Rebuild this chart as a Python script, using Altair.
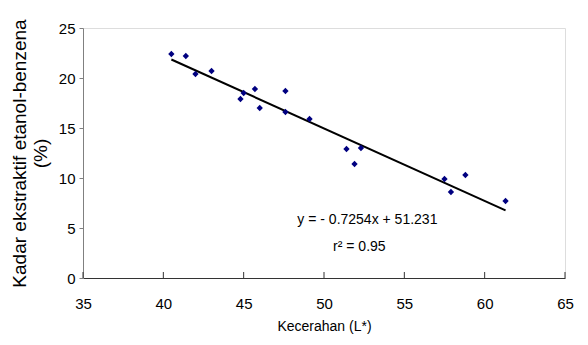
import altair as alt
import pandas as pd

# Data
lightness = [40.5, 41.4, 42.0, 43.0, 44.8, 45.0, 45.7, 46.0, 47.6, 47.6, 49.1,
             51.4, 51.9, 52.3, 57.5, 57.9, 58.8, 61.3]
extractive = [22.4, 22.2, 20.4, 20.7, 17.9, 18.5, 18.9, 17.0, 18.7, 16.6, 15.9,
              12.9, 11.4, 13.0, 9.9, 8.6, 10.3, 7.7]
slope = -0.7254
intercept = 51.231
x_ticks = [35, 40, 45, 50, 55, 60, 65]
y_ticks = [0, 5, 10, 15, 20, 25]
eq_text = ["y = - 0.7254x + 51.231", "r² = 0.95"]
eq_x = [52.7, 52.2]
eq_y = [5.8, 3.1]

FONT = "Liberation Sans"

pts = pd.DataFrame({"x": lightness, "y": extractive})
xmin, xmax = min(lightness), max(lightness)
fit = pd.DataFrame({"x": [xmin, xmax],
                    "y": [slope * xmin + intercept, slope * xmax + intercept]})
ticks = pd.DataFrame({"x": x_ticks})
labels = pd.DataFrame({"t": eq_text, "x": eq_x, "y": eq_y})

xscale = alt.Scale(domain=[35, 65], nice=False, zero=False)
yscale = alt.Scale(domain=[0, 25], nice=False)

xaxis = alt.Axis(values=x_ticks, title="Kecerahan (L*)", grid=False,
                 tickSize=0, labelPadding=18, domainColor="#333333",
                 labelFlush=False,
                 labelFont=FONT, labelFontSize=15, labelColor="black",
                 titleFont=FONT, titleFontSize=14, titleFontWeight="normal",
                 titleColor="black", titlePadding=8)
yaxis = alt.Axis(values=y_ticks,
                 title=["Kadar ekstraktif etanol-benzena", "(%)"], grid=False,
                 tickSize=4, tickColor="#808080", domainColor="#808080",
                 labelPadding=4, labelFont=FONT, labelFontSize=15,
                 labelColor="black", labelFlush=False,
                 titleFont=FONT, titleFontSize=19,
                 titleFontWeight="normal", titleColor="black", titlePadding=8,
                 titleLineHeight=21)

points = alt.Chart(pts).mark_point(shape="diamond", filled=True, color="#000080",
                                   size=40, opacity=1).encode(
    x=alt.X("x:Q", scale=xscale, axis=xaxis),
    y=alt.Y("y:Q", scale=yscale, axis=yaxis),
)

line = alt.Chart(fit).mark_line(color="black", strokeWidth=2).encode(
    x=alt.X("x:Q", scale=xscale),
    y=alt.Y("y:Q", scale=yscale),
)

tick_marks = alt.Chart(ticks).mark_rule(color="#333333", strokeWidth=1).encode(
    x=alt.X("x:Q", scale=xscale),
    y=alt.value(244),
    y2=alt.value(250),
)

text = alt.Chart(labels).mark_text(font=FONT, fontSize=14, color="black").encode(
    x=alt.X("x:Q", scale=xscale),
    y=alt.Y("y:Q", scale=yscale),
    text="t:N",
)

chart = alt.layer(tick_marks, line, points, text).properties(
    width=482, height=250,
    autosize=alt.AutoSizeParams(type="none"),
    padding={"left": 75, "top": 20, "right": 15, "bottom": 59},
).configure_view(stroke=None).configure(background="white")

chart.save("out.html", embed_options={"renderer": "svg", "actions": False})
